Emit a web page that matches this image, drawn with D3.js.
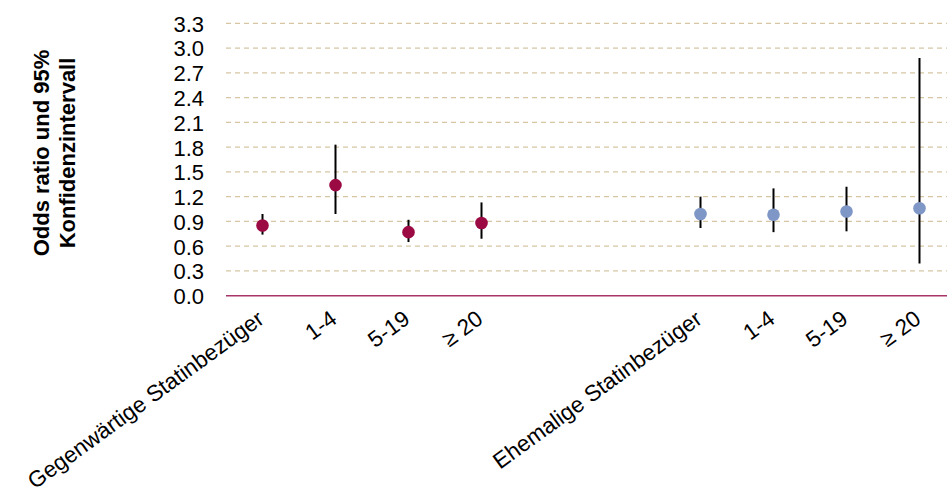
<!DOCTYPE html>
<html><head><meta charset="utf-8">
<script src="https://cdn.jsdelivr.net/npm/d3@7"></script>
<style>body{margin:0;background:#fff}svg{display:block}text{font-family:"Liberation Sans",Arial,sans-serif}</style>
</head><body><svg id="c" width="947" height="500"></svg>
<script>
const categories = ["Gegenwärtige Statinbezüger","1-4","5-19","≥ 20","gap1","gap2","Ehemalige Statinbezüger","1-4 ","5-19 ","≥ 20 "];
const labels = ["Gegenwärtige Statinbezüger","1-4","5-19","≥ 20","","","Ehemalige Statinbezüger","1-4","5-19","≥ 20"];
const pointCats = ["Gegenwärtige Statinbezüger","1-4","5-19","≥ 20","Ehemalige Statinbezüger","1-4 ","5-19 ","≥ 20 "];
const oddsRatio = [0.85,1.34,0.77,0.88,0.99,0.98,1.02,1.06];
const ciLow   = [0.74,0.99,0.65,0.69,0.82,0.77,0.78,0.39];
const ciHigh  = [0.99,1.83,0.92,1.13,1.20,1.30,1.32,2.88];
const groups  = ["current","current","current","current","former","former","former","former"];
const yTicks = [0,0.3,0.6,0.9,1.2,1.5,1.8,2.1,2.4,2.7,3.0,3.3];

const svg = d3.select("#c");
const x = d3.scaleBand().domain(categories).range([226,956]);
const y = d3.scaleLinear().domain([0,3.3]).range([295.7,23.3]);
const color = d3.scaleOrdinal().domain(["current","former"]).range(["#9B0A43","#7F97C6"]);

// gridlines
svg.append("g").selectAll("line").data(yTicks.filter(d=>d>0)).join("line")
  .attr("x1",226).attr("x2",947).attr("y1",d=>y(d)).attr("y2",d=>y(d))
  .attr("stroke","#D6C6A4").attr("stroke-width",1.3).attr("stroke-dasharray","5,4");
// baseline
svg.append("line").attr("x1",226).attr("x2",947).attr("y1",y(0)).attr("y2",y(0))
  .attr("stroke","#A8356A").attr("stroke-width",1.5);

// y axis
const yAxis = svg.append("g").attr("transform","translate(226,0)")
  .call(d3.axisLeft(y).tickValues(yTicks).tickFormat(d3.format(".1f")).tickSize(0).tickPadding(22));
yAxis.select(".domain").remove();
yAxis.selectAll("text").attr("font-size",22).attr("fill","#000").attr("font-family","Liberation Sans, Arial, sans-serif").attr("dy","0.36em");

// y title
const yt = svg.append("text").attr("transform","translate(0,153) rotate(-90)")
  .attr("text-anchor","middle").attr("font-weight","bold").attr("font-size",22);
yt.append("tspan").attr("x",0).attr("y",48.5).text("Odds ratio und 95%");
yt.append("tspan").attr("x",0).attr("y",75).text("Konfidenzintervall");

// x labels
svg.append("g").selectAll("text").data(categories).join("text")
  .attr("transform",(d)=>`translate(${x(d)+x.bandwidth()/2+3},322) rotate(-36)`)
  .attr("text-anchor","end").attr("font-size",22.5)
  .text((d,i)=>labels[i]);

// whiskers
svg.append("g").selectAll("line").data(pointCats).join("line")
  .attr("x1",d=>x(d)+x.bandwidth()/2).attr("x2",d=>x(d)+x.bandwidth()/2)
  .attr("y1",(d,i)=>y(ciLow[i])).attr("y2",(d,i)=>y(ciHigh[i]))
  .attr("stroke","#000").attr("stroke-width",2);
// points
svg.append("g").selectAll("circle").data(pointCats).join("circle")
  .attr("cx",d=>x(d)+x.bandwidth()/2).attr("cy",(d,i)=>y(oddsRatio[i]))
  .attr("r",6.3).attr("fill",(d,i)=>color(groups[i]));
</script></body></html>
